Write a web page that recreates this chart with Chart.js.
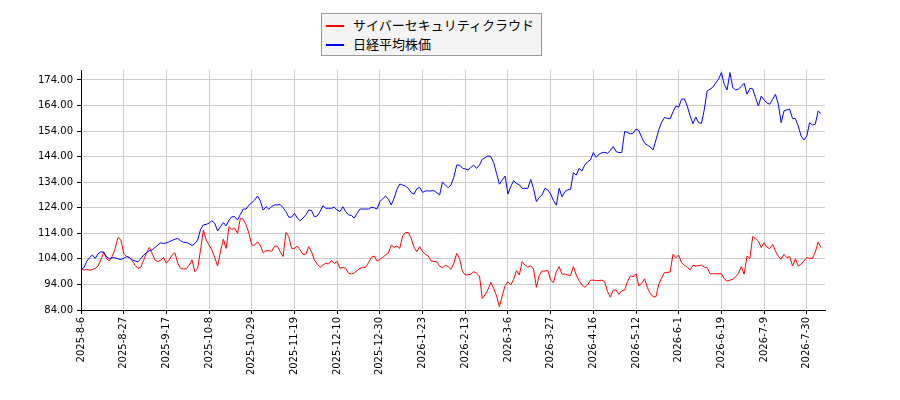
<!DOCTYPE html>
<html>
<head>
<meta charset="utf-8">
<script src="https://cdn.jsdelivr.net/npm/chart.js@4"></script>
<style>
  html, body { margin: 0; padding: 0; background: #fff; }
  #wrap { position: relative; width: 900px; height: 400px; }
  #legend { position: absolute; left: 321px; top: 13px; width: 221px; height: 43px;
            background: #f4f4f4; border: 1px solid #999; box-sizing: border-box;
            font-family: "Noto Sans CJK JP", "DejaVu Sans", sans-serif; font-size: 13px; color: #000; }
  .sw { position: absolute; left: 4px; width: 18px; height: 2px; }
  .lt { position: absolute; left: 31px; line-height: 16px; white-space: nowrap; }
</style>
</head>
<body>
<div id="wrap">
  <canvas id="c" width="900" height="400"></canvas>
  <div id="legend">
    <div class="sw" style="top:11px;background:#ff0000"></div>
    <div class="lt" style="top:3px">サイバーセキュリティクラウド</div>
    <div class="sw" style="top:30px;background:#0000ff"></div>
    <div class="lt" style="top:22px">日経平均株価</div>
  </div>
</div>
<script>
const seriesNames = ["サイバーセキュリティクラウド", "日経平均株価"];
const tickLabels = ["2025-8-6","2025-8-27","2025-9-17","2025-10-8","2025-10-29","2025-11-19","2025-12-10","2025-12-30","2026-1-23","2026-2-13","2026-3-6","2026-3-27","2026-4-16","2026-5-12","2026-6-1","2026-6-19","2026-7-9","2026-7-30"];
const yTicks = [84, 94, 104, 114, 124, 134, 144, 154, 164, 174];

const cyberValues = [
100.3,99.6,99.9,99.6,99.8,100.3,101.2,103.6,106.8,104.0,
103.3,105.0,108.0,112.4,111.4,106.2,104.9,104.6,103.3,101.5,
100.3,100.7,103.5,106.2,108.5,106.2,103.6,102.9,103.5,104.5,
102.3,103.6,105.5,106.4,102.3,100.3,100.0,100.2,101.5,103.6,
99.0,100.3,107.5,115.3,111.4,109.4,107.5,104.5,101.2,106.8,
111.7,108.1,116.6,115.5,116.0,114.0,119.9,119.5,117.3,114.0,
109.4,109.4,110.7,109.4,106.4,107.2,107.2,107.0,109.0,109.0,
106.8,104.9,114.3,112.7,108.1,108.1,109.0,107.5,105.8,105.8,
108.8,106.8,103.6,102.0,100.7,101.6,102.3,102.0,103.3,102.3,
103.0,100.3,100.7,100.3,98.4,98.1,98.5,99.4,100.3,100.7,
100.7,102.5,104.6,105.1,103.2,103.8,104.6,105.5,106.2,109.4,
108.5,109.0,108.1,113.0,114.3,114.3,112.0,108.5,106.8,108.8,
106.8,105.8,105.1,103.2,103.0,102.9,101.2,100.5,101.5,101.0,
99.9,102.3,106.2,104.2,99.2,97.7,97.8,98.0,99.0,98.4,
97.3,88.5,90.0,92.0,94.8,92.5,89.5,85.3,89.5,93.5,
95.0,93.8,96.0,99.4,97.7,102.9,101.6,100.8,101.3,100.0,
92.9,97.5,99.3,99.2,99.5,95.7,94.7,99.0,101.0,98.0,
98.1,97.7,97.5,101.0,97.7,95.5,93.8,92.9,93.8,95.7,
95.7,95.5,95.5,95.7,95.1,91.2,89.0,91.8,91.8,90.1,
91.5,91.8,95.1,97.3,97.0,98.2,93.4,94.5,96.2,92.7,
90.5,89.2,89.2,94.0,96.5,98.6,98.7,98.9,105.8,104.5,
105.4,102.5,101.5,100.8,99.7,101.5,101.2,101.4,101.6,100.8,
100.6,98.2,98.2,98.2,98.2,98.2,96.3,95.3,95.7,96.0,
97.0,98.4,101.0,98.0,105.1,104.1,112.7,112.0,111.0,108.4,
110.3,108.5,108.0,109.7,107.1,105.0,103.8,105.8,104.5,104.9,
101.2,104.0,101.2,101.9,103.2,104.5,104.2,104.2,106.7,110.6,
108.5
];

const nikkeiValues = [
100.0,100.5,103.0,104.5,105.5,104.2,106.0,106.8,106.5,104.8,
104.1,104.5,104.4,104.0,103.8,104.2,104.9,104.5,103.6,103.2,
102.9,104.0,105.5,106.4,107.2,107.5,108.5,109.4,110.3,110.0,
110.3,110.7,111.2,111.7,112.0,111.1,110.5,110.4,110.0,109.2,
110.0,111.4,115.5,117.3,117.5,118.0,118.9,117.9,114.9,116.6,
118.2,116.9,119.2,120.5,120.5,119.2,121.4,123.5,123.5,125.0,
126.0,127.0,128.6,126.7,123.1,124.4,123.4,124.5,125.1,125.1,
125.3,124.0,122.5,120.3,120.3,121.8,120.0,118.9,120.0,121.2,
123.1,122.9,120.5,120.8,122.5,124.8,123.8,123.8,123.8,124.2,
123.1,122.5,124.4,122.5,121.2,121.0,119.9,121.8,123.5,123.5,
123.5,123.5,124.2,124.0,123.5,126.4,127.5,128.6,127.3,125.1,
127.7,131.2,133.3,132.9,132.5,131.6,129.9,129.3,131.5,132.0,
130.0,130.6,130.6,130.6,130.7,129.9,129.0,134.0,132.9,131.9,
132.9,136.0,140.7,140.7,139.5,139.2,138.8,139.8,140.7,139.4,
140.7,143.0,143.6,144.3,144.0,141.6,137.5,133.2,134.9,136.4,
129.4,132.3,134.6,133.5,133.0,131.6,131.6,131.6,135.1,131.5,
126.4,128.0,129.0,131.6,131.0,129.4,126.8,125.0,131.6,128.3,
130.3,131.0,131.2,137.7,136.8,139.4,138.4,140.7,142.0,142.7,
145.6,143.7,145.0,145.5,145.7,145.3,146.5,147.9,146.0,145.6,
145.6,153.8,153.5,152.9,153.2,154.8,154.2,151.5,149.3,148.5,
147.8,146.6,150.5,154.5,157.5,159.3,159.0,158.8,161.5,163.8,
163.4,166.5,166.6,163.8,160.0,156.9,159.5,157.3,157.0,162.5,
169.7,170.4,171.2,172.8,174.3,176.9,172.3,170.1,176.9,171.0,
170.1,170.4,171.5,172.7,168.4,170.7,170.5,167.1,163.8,167.7,
166.2,165.0,164.5,166.4,168.4,164.5,157.3,161.9,162.3,162.5,
158.9,158.9,156.0,152.1,150.5,152.1,157.3,156.4,156.7,161.9,
160.8
];

const tickStep = 15;
const indexLabels = cyberValues.map((_, i) => i);

new Chart(document.getElementById('c'), {
  type: 'line',
  data: {
    labels: indexLabels,
    datasets: [
      { label: seriesNames[0], data: cyberValues, borderColor: '#ff0000', borderWidth: 1, pointRadius: 0, tension: 0, order: 1 },
      { label: seriesNames[1], data: nikkeiValues, borderColor: '#0000ff', borderWidth: 1, pointRadius: 0, tension: 0, order: 0 }
    ]
  },
  options: {
    responsive: false,
    animation: false,
    events: [],
    layout: { padding: { top: 70, right: 75, left: 0, bottom: 0 } },
    plugins: { legend: { display: false }, tooltip: { enabled: false } },
    scales: {
      x: {
        type: 'linear',
        min: 0,
        max: 261.4,
        afterBuildTicks: (scale) => { scale.ticks = tickLabels.map((_, k) => ({ value: k * tickStep })); },
        afterFit: (scale) => { scale.height = 90; },
        ticks: {
          autoSkip: false, maxRotation: 90, minRotation: 90, padding: 3,
          color: '#000', font: { family: 'DejaVu Sans', size: 10 },
          callback: (v) => tickLabels[Math.round(v / tickStep)]
        },
        grid: { color: '#cccccc', lineWidth: 1, tickColor: '#000', tickLength: 4, drawTicks: true },
        border: { color: '#000', width: 1 }
      },
      y: {
        type: 'linear',
        min: 84,
        max: 177.9,
        afterBuildTicks: (scale) => { scale.ticks = yTicks.map(v => ({ value: v })); },
        afterFit: (scale) => { scale.width = 81; },
        ticks: {
          padding: 4, color: '#000', font: { family: 'DejaVu Sans', size: 10 },
          callback: (v) => Number(v).toFixed(2)
        },
        grid: { color: '#cccccc', lineWidth: 1, tickColor: '#000', tickLength: 4, drawTicks: true },
        border: { color: '#000', width: 1 }
      }
    }
  }
});
</script>
</body>
</html>
